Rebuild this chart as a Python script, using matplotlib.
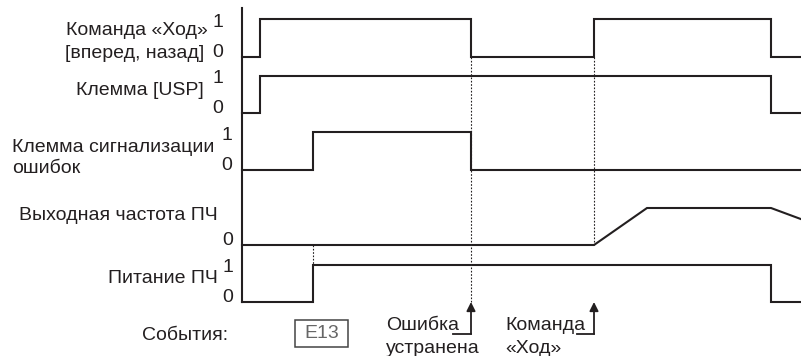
import matplotlib
matplotlib.use('Agg')
import matplotlib.pyplot as plt
from matplotlib.patches import Rectangle

plt.rcParams['font.family'] = ['Liberation Sans', 'DejaVu Sans']

INK = '#231f20'

# time axis: t = 0 at the vertical axis line, t = 559 at the right edge
t_end = 559

# signals: time of each corner and level (0 / 1)
run_t = [0, 18, 18, 229, 229, 352, 352, 529, 529, t_end]
run_v = [0, 0, 1, 1, 0, 0, 1, 1, 0, 0]

usp_t = [0, 18, 18, 529, 529, t_end]
usp_v = [0, 0, 1, 1, 0, 0]

alarm_t = [0, 71, 71, 229, 229, t_end]
alarm_v = [0, 0, 1, 1, 0, 0]

freq_t = [0, 352, 405, 529, t_end]
freq_v = [0, 0, 1, 1, 0.7]

power_t = [0, 71, 71, 529, 529, t_end]
power_v = [0, 0, 1, 1, 0, 0]

# row baselines (level 0) and tops (level 1)
rows = [(57, 19), (113, 76), (170, 132), (245, 208), (302, 265)]
signals = [(run_t, run_v), (usp_t, usp_v), (alarm_t, alarm_v),
           (freq_t, freq_v), (power_t, power_v)]

# event times
t_trip = 71
t_clear = 229
t_run = 352


def level_to_y(row, v):
    base, top = rows[row]
    return [base - (base - top) * x for x in v]


def plot():
    """Timing diagram"""
    fig = plt.figure(figsize=(8.01, 3.56), dpi=100)
    ax = fig.add_axes([0, 0, 1, 1])
    ax.set_xlim(-242, t_end)
    ax.set_ylim(356, 0)
    ax.axis('off')

    for i, (t, v) in enumerate(signals):
        ax.plot(t, level_to_y(i, v), color=INK, lw=1.5, solid_joinstyle='miter')

    # vertical axis
    ax.plot([0, 0], [8, rows[4][0]], color=INK, lw=1.5)

    # dotted guide lines
    dkw = dict(color=INK, lw=0.8, linestyle=(0, (1.5, 1.5)))
    ax.plot([t_trip, t_trip], [rows[3][0], rows[4][1]], **dkw)
    ax.plot([t_clear, t_clear], [rows[0][0], rows[4][0]], **dkw)
    ax.plot([t_run, t_run], [rows[0][0], rows[3][0]], **dkw)

    # event arrows
    for t, left in [(t_clear, 211), (t_run, 335)]:
        ax.annotate('', xy=(t, rows[4][0]), xytext=(t, 334),
                    arrowprops=dict(arrowstyle='-|>', color=INK, lw=1.3,
                                    mutation_scale=13, shrinkA=0, shrinkB=0))
        ax.plot([left, t], [334, 334], color=INK, lw=1.3)

    fs = 14
    tkw = dict(fontsize=fs, color=INK, va='baseline')

    # row labels
    ax.text(-34, 35, 'Команда «Ход»', ha='right', **tkw)
    ax.text(-38, 58, '[вперед, назад]', ha='right', **tkw)
    ax.text(-38, 95, 'Клемма [USP]', ha='right', **tkw)
    ax.text(-230, 152, 'Клемма сигнализации', ha='left', **tkw)
    ax.text(-230, 173, 'ошибок', ha='left', **tkw)
    ax.text(-24, 220, 'Выходная частота ПЧ', ha='right', **tkw)
    ax.text(-24, 283, 'Питание ПЧ', ha='right', **tkw)
    ax.text(-14, 340, 'События:', ha='right', **tkw)

    # 1 / 0 marks
    marks = [(-24, 27, '1'), (-24, 57, '0'), (-24, 83, '1'), (-24, 113, '0'),
             (-15, 140, '1'), (-15, 170, '0'), (-14, 245, '0'),
             (-14, 272, '1'), (-14, 302, '0')]
    for x, y, s in marks:
        ax.text(x, y, s, ha='center', **tkw)

    # E13 box
    ax.add_patch(Rectangle((53, 320), 53, 27, fill=False, edgecolor='#444444', lw=1.1))
    ax.text(79.5, 334, 'E13', ha='center', va='center', fontsize=fs, color='#666666')

    # event captions
    ax.text(144, 330, 'Ошибка', ha='left', **tkw)
    ax.text(144, 353, 'устранена', ha='left', **tkw)
    ax.text(263, 330, 'Команда', ha='left', **tkw)
    ax.text(263, 353, '«Ход»', ha='left', **tkw)

    fig.savefig('out.png', dpi=100)


plot()
